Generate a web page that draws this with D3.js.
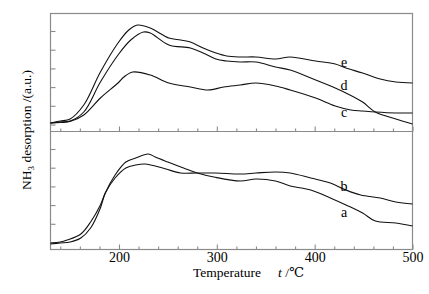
<!DOCTYPE html>
<html><head><meta charset="utf-8">
<script src="https://cdn.jsdelivr.net/npm/d3@7"></script>
<style>body{margin:0;background:#fff}svg{display:block}svg text{font-family:"Liberation Serif","Times New Roman","DejaVu Serif",serif !important;fill:#000}</style>
</head><body><svg id="c" width="429" height="294"></svg>
<script>
// Temperature (°C) and NH3 desorption intensity (a.u.)
const xTickLabels = [200, 300, 400, 500];
const yTickValues = [6.5, 25.2, 43.9, 62.6, 81.3, 100];
const seriesNames = ["a", "b", "c", "d", "e"];
const curveE = [[130,8],[140,10],[150,12],[164,26],[181,59],[199,88],[210,101],[219,106],[232,103],[251,93],[263,91],[273,89],[286,83],[299,78],[310,75],[324,74],[340,74],[360,72],[375,74],[401,70],[421,67],[432,63],[449,58],[467,52],[483,49],[500,48]];
const curveD = [[130,8],[140,9],[150,10],[164,19],[181,49],[199,76],[212,91],[225,99],[232,98],[251,86],[273,83],[286,78],[299,72],[310,70],[324,69],[340,69],[360,64],[375,61],[401,51],[421,43],[432,38],[449,29],[462,19],[483,12],[500,7]];
const curveC = [[130,8],[140,8.5],[150,9.5],[164,16],[181,33],[199,48],[205,54],[214,59],[232,56],[251,48],[273,44],[291,41],[307,44],[324,46],[340,48],[360,45],[375,41],[401,33],[421,25],[437,21],[449,20],[462,19],[483,18],[500,18]];
const curveB = [[130,6],[140,7],[147,9],[161,15],[171,27],[181,44],[186,56],[196,71],[207,81],[217,84],[227,85],[237,83],[248,80],[263,76],[280,76],[299,76],[324,75],[340,76],[360,77],[375,76],[396,71],[416,66],[432,59],[447,54],[467,51],[483,47],[500,45]];
const curveA = [[130,5],[140,6],[150,7],[161,11],[171,21],[181,41],[186,56],[196,74],[207,87],[217,91],[230,95],[237,92],[250,87],[266,81],[280,76],[297,72],[324,68],[340,70],[360,68],[375,63],[396,59],[416,51],[432,44],[449,36],[462,28],[483,26],[500,23]];

const FONT = '"Liberation Serif","Times New Roman","DejaVu Serif",serif';
const svg = d3.select("#c");
const L = 50.5, R = 412.5, T = 13, M = 131, B = 249;
const x = d3.scaleLinear().domain([130, 500]).range([L, R]);
const yTop = d3.scaleLinear().domain([0, 118]).range([M, T]);
const yBot = d3.scaleLinear().domain([0, 118]).range([B, M]);
const axisColor = "#8a8a8a";

// frame
svg.append("rect").attr("x", L).attr("y", T + 0.5).attr("width", R - L).attr("height", B - T)
  .attr("fill", "none").attr("stroke", axisColor).attr("stroke-width", 1.2);
svg.append("line").attr("x1", L).attr("x2", R).attr("y1", M + 0.5).attr("y2", M + 0.5)
  .attr("stroke", axisColor).attr("stroke-width", 1.2);

const minor = d3.range(140, 500, 20).filter(v => v % 100 !== 0);
function xTicks(yPos, labels) {
  const gMin = svg.append("g").attr("transform", `translate(0,${yPos + 0.5})`)
    .call(d3.axisBottom(x).tickValues(minor).tickSizeInner(-3).tickSizeOuter(0).tickFormat(""));
  const gMaj = svg.append("g").attr("transform", `translate(0,${yPos + 0.5})`)
    .call(d3.axisBottom(x).tickValues(xTickLabels).tickSizeInner(-5).tickSizeOuter(0).tickPadding(3)
      .tickFormat(labels ? d3.format("d") : ""));
  [gMin, gMaj].forEach(g => {
    g.attr("font-family", FONT);
    g.select(".domain").remove();
    g.selectAll("line").attr("stroke", axisColor).attr("stroke-width", 1.1);
    g.selectAll("text").attr("font-size", 14).attr("font-family", FONT).attr("fill", "#000");
  });
}
xTicks(M, false);
xTicks(B, true);

function yTicks(scale) {
  const g = svg.append("g").attr("transform", `translate(${L},0)`)
    .call(d3.axisLeft(scale).tickValues(yTickValues).tickSizeInner(-5).tickSizeOuter(0).tickFormat(""));
  g.select(".domain").remove();
  g.selectAll("line").attr("stroke", axisColor).attr("stroke-width", 1.1);
}
yTicks(yTop);
yTicks(yBot);

const curve = d3.curveCatmullRom.alpha(0.5);
const lineTop = d3.line().x(d => x(d[0])).y(d => yTop(d[1])).curve(curve);
const lineBot = d3.line().x(d => x(d[0])).y(d => yBot(d[1])).curve(curve);
[curveC, curveD, curveE].forEach(c => svg.append("path").attr("d", lineTop(c))
  .attr("fill", "none").attr("stroke", "#111").attr("stroke-width", 1.1));
[curveA, curveB].forEach(c => svg.append("path").attr("d", lineBot(c))
  .attr("fill", "none").attr("stroke", "#111").attr("stroke-width", 1.1));

// series labels
const labelPos = [
  {n: "a", s: yBot, v: 249 - 217}, {n: "b", s: yBot, v: 249 - 191},
  {n: "c", s: yTop, v: 131 - 117}, {n: "d", s: yTop, v: 131 - 90}, {n: "e", s: yTop, v: 131 - 67}];
labelPos.forEach(p => svg.append("text").attr("x", x(430)).attr("y", p.s(p.v))
  .attr("text-anchor", "middle").attr("font-size", 14).attr("font-family", FONT).text(p.n));

// axis titles
const xt = svg.append("text").attr("x", 193).attr("y", 277).attr("font-size", 13.5).attr("font-family", FONT);
xt.append("tspan").text("Temperature");
xt.append("tspan").attr("dx", 17).attr("font-style", "italic").text("t");
xt.append("tspan").text(" /℃");

const yt = svg.append("text").attr("transform", "translate(31,130) rotate(-90)")
  .attr("text-anchor", "middle").attr("font-size", 13.5).attr("font-family", FONT);
yt.append("tspan").text("NH");
yt.append("tspan").attr("font-size", 9).attr("dy", 3).text("3");
yt.append("tspan").attr("dy", -3).text(" desorption /(a.u.)");
</script></body></html>
